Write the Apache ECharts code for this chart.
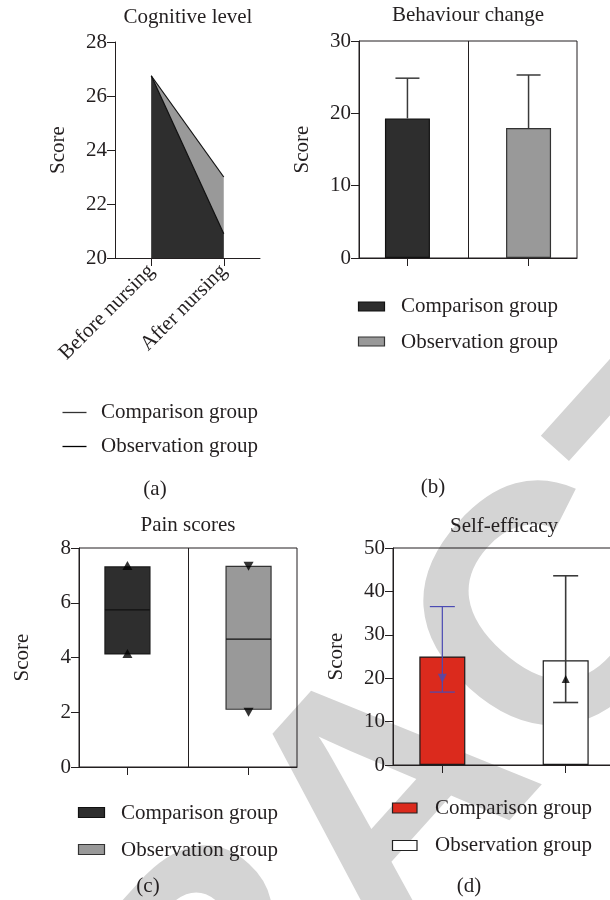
<!DOCTYPE html>
<html>
<head>
<meta charset="utf-8">
<script src="https://cdn.jsdelivr.net/npm/echarts@6/dist/echarts.min.js"></script>
<style>
  html, body { margin: 0; padding: 0; background: #ffffff; overflow: hidden; }
  /* the drawing surface is a little wider than the window so the last frame runs past the right edge */
  #chart { width: 640px; height: 900px; }
</style>
</head>
<body>
<div id="chart"></div>
<script>
// ---- data ----
const groups = ['Comparison group', 'Observation group'];

// (a) Cognitive level
const cogCategories = ['Before nursing', 'After nursing'];
const cogComparison = [26.75, 20.9];
const cogObservation = [26.75, 23.0];

// (b) Behaviour change: mean and upper end of the error bar
const behaviourMean = [19.3, 17.96];
const behaviourUpper = [24.86, 25.3];

// (c) Pain scores: floating box (low, high), centre line, end markers
const painLow = [4.13, 2.11];
const painHigh = [7.31, 7.33];
const painMid = [5.74, 4.67];
const painMarkTop = [7.36, 7.33];
const painMarkBottom = [4.15, 2.0];

// (d) Self-efficacy: bar, error range and marker
const efficacyMean = [25.0, 24.15];
const efficacyLow = [16.8, 14.4];
const efficacyHigh = [36.5, 43.6];
const efficacyMark = [20.0, 19.8];

// ---- styling ----
const FONT = '"Liberation Serif", "Times New Roman", serif';
const TEXT = '#231f20';
const DARK = '#2e2e2e';
const GREY = '#999999';
const RED = '#db2a1d';
const BLUE = '#4b4bb3';
const AXIS = '#231f20';
const FS = 21;

const chart = echarts.init(document.getElementById('chart'), null, { renderer: 'canvas' });

function valueY(gridIndex, min, max, interval) {
  return {
    type: 'value', gridIndex, min, max, interval,
    name: 'Score', nameLocation: 'middle', nameGap: 46,
    nameTextStyle: { fontFamily: FONT, fontSize: FS, color: TEXT },
    axisLine: { show: true, onZero: false, lineStyle: { color: AXIS, width: 1 } },
    axisTick: { show: true, inside: false, length: 8, lineStyle: { color: AXIS, width: 1 } },
    axisLabel: { fontFamily: FONT, fontSize: FS, color: TEXT, margin: 8 },
    splitLine: { show: false }
  };
}

function positionX(gridIndex) {
  return {
    type: 'value', gridIndex, min: -0.4, max: 1.4,
    axisLine: { show: true, onZero: false, lineStyle: { color: AXIS, width: 1 } },
    axisTick: { show: true, length: 8, customValues: [0, 1], lineStyle: { color: AXIS, width: 1 } },
    axisLabel: { show: false },
    splitLine: { show: false }
  };
}

// error bar drawn from the bar top upwards, with a cap
function upperErrorBar(params, api) {
  const x = api.value(0);
  const from = api.coord([x, api.value(1)]);
  const to = api.coord([x, api.value(2)]);
  const half = 12;
  const style = { stroke: '#3a3a3a', lineWidth: 1.5 };
  return {
    type: 'group',
    children: [
      { type: 'line', shape: { x1: from[0], y1: from[1], x2: to[0], y2: to[1] }, style },
      { type: 'line', shape: { x1: to[0] - half, y1: to[1], x2: to[0] + half, y2: to[1] }, style }
    ]
  };
}

// full error range with caps at both ends
const rangeColors = [BLUE, '#3a3a3a'];
function rangeErrorBar(params, api) {
  const x = api.value(0);
  const lo = api.coord([x, api.value(1)]);
  const hi = api.coord([x, api.value(2)]);
  const half = 12.5;
  const style = { stroke: rangeColors[params.dataIndex], lineWidth: params.dataIndex === 0 ? 1.2 : 1.6 };
  return {
    type: 'group',
    children: [
      { type: 'line', shape: { x1: lo[0], y1: lo[1], x2: hi[0], y2: hi[1] }, style },
      { type: 'line', shape: { x1: hi[0] - half, y1: hi[1], x2: hi[0] + half, y2: hi[1] }, style },
      { type: 'line', shape: { x1: lo[0] - half, y1: lo[1], x2: lo[0] + half, y2: lo[1] }, style }
    ]
  };
}

// floating box from low to high with a centre line
const boxFill = [DARK, GREY];
const boxStroke = ['#1a1a1a', '#333333'];
function floatingBox(params, api) {
  const x = api.value(0);
  const lo = api.coord([x, api.value(1)]);
  const hi = api.coord([x, api.value(2)]);
  const mid = api.coord([x, api.value(3)]);
  const w = 45;
  return {
    type: 'group',
    children: [
      { type: 'rect', shape: { x: hi[0] - w / 2, y: hi[1], width: w, height: lo[1] - hi[1] },
        style: { fill: boxFill[params.dataIndex], stroke: boxStroke[params.dataIndex], lineWidth: 1.2 } },
      { type: 'line', shape: { x1: mid[0] - w / 2, y1: mid[1], x2: mid[0] + w / 2, y2: mid[1] },
        style: { stroke: '#111111', lineWidth: 1.2 } }
    ]
  };
}

// ---- legends, titles and panel letters ----
const graphics = [];

// background stamp text
graphics.push({
  type: 'text', x: 396, y: 806, rotation: 48 * Math.PI / 180, z: -10, silent: true,
  style: { text: 'RETRACTED', font: 'bold 340px "Liberation Sans", Arial, sans-serif',
           fill: '#d4d4d4', align: 'center', verticalAlign: 'middle' }
});

function legendText(x, y, text) {
  return { type: 'text', x, y, z: 10,
    style: { text, font: FS + 'px ' + FONT, fill: TEXT, align: 'left', verticalAlign: 'middle' } };
}
function legendLine(x1, x2, y, color) {
  return { type: 'line', z: 10, shape: { x1, y1: y, x2, y2: y }, style: { stroke: color, lineWidth: 1.3 } };
}
function legendBox(x, y, w, h, fill, stroke) {
  return { type: 'rect', z: 10, shape: { x, y: y - h / 2, width: w, height: h }, style: { fill, stroke, lineWidth: 1.2 } };
}
function panelLetter(x, y, text) {
  return { type: 'text', x, y, z: 10,
    style: { text, font: FS + 'px ' + FONT, fill: TEXT, align: 'center', verticalAlign: 'middle' } };
}

// (a)
graphics.push(legendLine(62.5, 86.5, 412.5, '#333333'));
graphics.push(legendLine(62.5, 86.5, 446.5, '#000000'));
graphics.push(legendText(101, 412, groups[0]));
graphics.push(legendText(101, 446, groups[1]));
graphics.push(panelLetter(155, 489, '(a)'));
// (b)
graphics.push(legendBox(358.5, 306.5, 26, 9, DARK, '#111111'));
graphics.push(legendBox(358.5, 341.5, 26, 9, GREY, '#333333'));
graphics.push(legendText(401, 306, groups[0]));
graphics.push(legendText(401, 342, groups[1]));
graphics.push(panelLetter(433, 487, '(b)'));
// (c)
graphics.push(legendBox(78.5, 812.5, 26, 10, DARK, '#111111'));
graphics.push(legendBox(78.5, 849.5, 26, 10, GREY, '#333333'));
graphics.push(legendText(121, 813, groups[0]));
graphics.push(legendText(121, 850, groups[1]));
graphics.push(panelLetter(148, 886, '(c)'));
// (d)
graphics.push(legendBox(392.5, 808, 24.5, 10, RED, '#222222'));
graphics.push(legendBox(392.5, 845.5, 24.5, 10, '#ffffff', '#222222'));
graphics.push(legendText(435, 808, groups[0]));
graphics.push(legendText(435, 845, groups[1]));
graphics.push(panelLetter(469, 886, '(d)'));

function panelTitle(text, x, y) {
  return { text, left: x, top: y, textAlign: 'center', padding: 0,
    textStyle: { fontFamily: FONT, fontSize: FS, fontWeight: 'normal', color: TEXT } };
}

const option = {
  backgroundColor: '#ffffff',
  animation: false,
  title: [
    panelTitle('Cognitive level', 188, 7),
    panelTitle('Behaviour change', 468, 5),
    panelTitle('Pain scores', 188, 515),
    panelTitle('Self-efficacy', 504, 516)
  ],
  grid: [
    { left: 115, top: 42, width: 145, height: 216 },
    { left: 359, top: 41, width: 218, height: 217, show: true, borderColor: AXIS, borderWidth: 1 },
    { left: 79, top: 548, width: 218, height: 219, show: true, borderColor: AXIS, borderWidth: 1 },
    { left: 393, top: 548, width: 222, height: 217, show: true, borderColor: AXIS, borderWidth: 1 }
  ],
  xAxis: [
    {
      type: 'category', gridIndex: 0, data: cogCategories, boundaryGap: true,
      axisLine: { show: true, onZero: false, lineStyle: { color: AXIS, width: 1 } },
      axisTick: { show: true, alignWithLabel: true, length: 8, lineStyle: { color: AXIS, width: 1 } },
      axisLabel: { rotate: 45, margin: 10, fontFamily: FONT, fontSize: FS, color: TEXT },
      splitLine: { show: false }
    },
    positionX(1),
    positionX(2),
    positionX(3)
  ],
  yAxis: [
    valueY(0, 20, 28, 2),
    valueY(1, 0, 30, 10),
    valueY(2, 0, 8, 2),
    valueY(3, 0, 50, 10)
  ],
  graphic: { elements: graphics },
  series: [
    // (a) areas
    {
      name: groups[1], type: 'line', xAxisIndex: 0, yAxisIndex: 0, data: cogObservation,
      symbol: 'none', z: 2,
      lineStyle: { color: '#111111', width: 1.2 },
      areaStyle: { color: GREY, opacity: 1, origin: 'start' }
    },
    {
      name: groups[0], type: 'line', xAxisIndex: 0, yAxisIndex: 0, data: cogComparison,
      symbol: 'none', z: 3,
      lineStyle: { color: '#111111', width: 1.2 },
      areaStyle: { color: DARK, opacity: 1, origin: 'start' }
    },
    // (b) bars with error bars
    {
      name: groups[0], type: 'bar', xAxisIndex: 1, yAxisIndex: 1, barWidth: 45, barGap: '-100%',
      data: [[0, behaviourMean[0]]],
      itemStyle: { color: DARK, borderColor: '#111111', borderWidth: 1.2 }
    },
    {
      name: groups[1], type: 'bar', xAxisIndex: 1, yAxisIndex: 1, barWidth: 45, barGap: '-100%',
      data: [[1, behaviourMean[1]]],
      itemStyle: { color: GREY, borderColor: '#333333', borderWidth: 1.2 }
    },
    {
      type: 'custom', xAxisIndex: 1, yAxisIndex: 1, z: 4,
      data: behaviourMean.map((v, i) => [i, v, behaviourUpper[i]]),
      encode: { x: 0, y: [1, 2] },
      renderItem: upperErrorBar
    },
    // (c) floating boxes with end markers
    {
      type: 'custom', xAxisIndex: 2, yAxisIndex: 2, z: 3,
      data: painLow.map((v, i) => [i, v, painHigh[i], painMid[i]]),
      encode: { x: 0, y: [1, 2, 3] },
      renderItem: floatingBox
    },
    {
      name: groups[0], type: 'scatter', xAxisIndex: 2, yAxisIndex: 2, z: 5,
      symbol: 'triangle', symbolSize: [10, 9],
      data: [[0, painMarkTop[0]], [0, painMarkBottom[0]]],
      itemStyle: { color: '#000000' }
    },
    {
      name: groups[1], type: 'scatter', xAxisIndex: 2, yAxisIndex: 2, z: 5,
      symbol: 'triangle', symbolRotate: 180, symbolSize: [10, 9],
      data: [[1, painMarkTop[1]], [1, painMarkBottom[1]]],
      itemStyle: { color: '#000000' }
    },
    // (d) bars, error ranges and markers
    {
      name: groups[0], type: 'bar', xAxisIndex: 3, yAxisIndex: 3, barWidth: 46, barGap: '-100%',
      data: [[0, efficacyMean[0]]],
      itemStyle: { color: RED, borderColor: '#1a1a1a', borderWidth: 1.2 }
    },
    {
      name: groups[1], type: 'bar', xAxisIndex: 3, yAxisIndex: 3, barWidth: 46, barGap: '-100%',
      data: [[1, efficacyMean[1]]],
      itemStyle: { color: '#ffffff', borderColor: '#1a1a1a', borderWidth: 1.2 }
    },
    {
      type: 'custom', xAxisIndex: 3, yAxisIndex: 3, z: 4,
      data: efficacyLow.map((v, i) => [i, v, efficacyHigh[i]]),
      encode: { x: 0, y: [1, 2] },
      renderItem: rangeErrorBar
    },
    {
      name: groups[0], type: 'scatter', xAxisIndex: 3, yAxisIndex: 3, z: 5,
      symbol: 'triangle', symbolRotate: 180, symbolSize: [9, 9],
      data: [[0, efficacyMark[0]]],
      itemStyle: { color: BLUE }
    },
    {
      name: groups[1], type: 'scatter', xAxisIndex: 3, yAxisIndex: 3, z: 5,
      symbol: 'triangle', symbolSize: [8, 8],
      data: [[1, efficacyMark[1]]],
      itemStyle: { color: '#000000' }
    },
    // divider lines between the two groups in (b) and (c)
    {
      type: 'line', xAxisIndex: 1, yAxisIndex: 1, data: [], silent: true,
      markLine: { symbol: 'none', silent: true, label: { show: false },
        lineStyle: { color: AXIS, width: 1, type: 'solid' }, data: [{ xAxis: 0.5 }] }
    },
    {
      type: 'line', xAxisIndex: 2, yAxisIndex: 2, data: [], silent: true,
      markLine: { symbol: 'none', silent: true, label: { show: false },
        lineStyle: { color: AXIS, width: 1, type: 'solid' }, data: [{ xAxis: 0.5 }] }
    }
  ]
};

chart.setOption(option);
</script>
</body>
</html>
